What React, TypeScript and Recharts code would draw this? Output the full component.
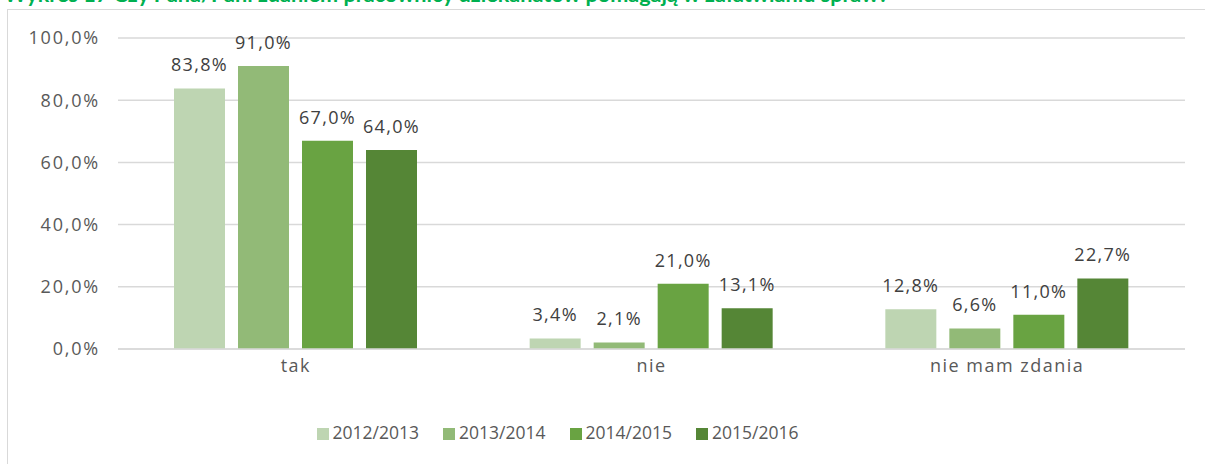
import React from "react";
import {
  BarChart,
  Bar,
  XAxis,
  YAxis,
  CartesianGrid,
  Legend,
  LabelList,
} from "recharts";

const categories = ["tak", "nie", "nie mam zdania"];
const years = ["2012/2013", "2013/2014", "2014/2015", "2015/2016"];
const values2012 = [83.8, 3.4, 12.8];
const values2013 = [91.0, 2.1, 6.6];
const values2014 = [67.0, 21.0, 11.0];
const values2015 = [64.0, 13.1, 22.7];
const yTicks = [0, 20, 40, 60, 80, 100];
const colors = ["#bed5b2", "#92ba77", "#69a342", "#558636"];

const series = [values2012, values2013, values2014, values2015];

const data = categories.map((name, i) => {
  const row: Record<string, string | number> = { name };
  years.forEach((y, j) => {
    row[y] = series[j][i];
  });
  return row;
});

const fmt = (v: number) => v.toFixed(1).replace(".", ",") + "%";

const FONT = "'Open Sans', sans-serif";

export default function App() {
  return (
    <div
      style={{
        position: "absolute",
        left: 0,
        top: 0,
        width: 1205,
        height: 464,
        overflow: "hidden",
        background: "#fff",
        fontFamily: FONT,
      }}
    >
      <div
        style={{
          position: "absolute",
          left: 4,
          top: -19,
          color: "#00b050",
          fontWeight: 700,
          fontSize: 21.6,
          whiteSpace: "nowrap",
          fontFamily: "Lato, sans-serif",
        }}
      >
        Wykres 17 Czy Pana/Pani zdaniem pracownicy dziekanatów pomagają w załatwianiu spraw?
      </div>
      <div
        style={{
          position: "absolute",
          left: 7,
          top: 9,
          width: 1220,
          height: 480,
          border: "1px solid #d9d9d9",
          boxSizing: "border-box",
        }}
      />
      <div style={{ position: "absolute", left: 0, top: 0 }}>
        <BarChart
          width={1205}
          height={464}
          data={data}
          margin={{ top: 38, right: 20, bottom: 20, left: 8 }}
          barSize={51}
          barGap={13}
        >
          <CartesianGrid vertical={false} stroke="#d9d9d9" strokeWidth={1.5} />
          <XAxis
            dataKey="name"
            tickLine={false}
            axisLine={{ stroke: "#d9d9d9", strokeWidth: 1.5 }}
            tick={{ fill: "#595959", fontSize: 18, fontFamily: FONT, letterSpacing: 1.5 }}
            height={30}
            tickMargin={4}
          />
          <YAxis
            width={110}
            domain={[0, 100]}
            ticks={yTicks}
            tickFormatter={fmt}
            axisLine={false}
            tickLine={false}
            tick={{ fill: "#595959", fontSize: 18, fontFamily: FONT, letterSpacing: 1.8 }}
            tickMargin={12}
          />
          <Legend
            verticalAlign="bottom"
            iconType="square"
            iconSize={12}
            wrapperStyle={{
              fontFamily: FONT,
              fontSize: 17.5,
              color: "#595959",
              paddingTop: 41,
              left: -19,
            }}
            formatter={(v: string) => (
              <span style={{ color: "#595959", marginRight: 14 }}>{v}</span>
            )}
          />
          {years.map((y, j) => (
            <Bar key={y} dataKey={y} fill={colors[j]} isAnimationActive={false}>
              <LabelList
                dataKey={y}
                position="top"
                offset={17}
                formatter={(v: number) => fmt(v)}
                style={{ fill: "#404040", fontSize: 18, fontFamily: FONT, letterSpacing: 1.3 }}
              />
            </Bar>
          ))}
        </BarChart>
      </div>
    </div>
  );
}
